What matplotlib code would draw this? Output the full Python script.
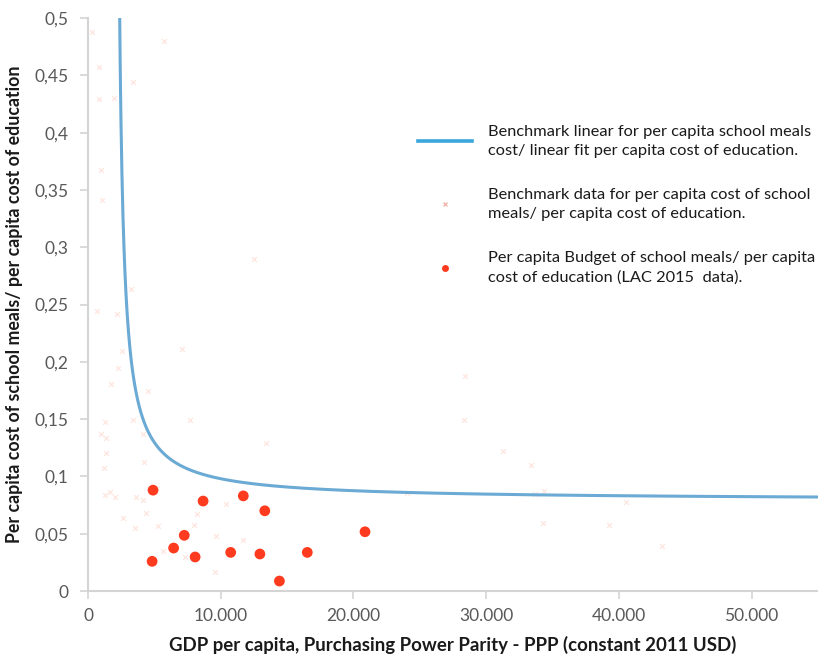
import matplotlib
matplotlib.use("Agg")
import matplotlib.pyplot as plt
import numpy as np
from matplotlib.lines import Line2D
from matplotlib.ticker import FuncFormatter

plt.rcParams['font.family'] = ['Lato', 'DejaVu Sans']

# Benchmark data: GDP per capita (PPP) vs school-meal cost / education cost
bench_gdp = [330, 5700, 800, 3370, 800, 1930, 1000, 1080, 12500, 3250, 680, 2200,
             2550, 7100, 2280, 1700, 4500, 1300, 3370, 7700, 1000, 1380, 4120, 1380,
             1180, 4250, 13400, 1300, 1630, 2000, 3630, 4120, 10370, 2620, 4380,
             8200, 3550, 5250, 8000, 9620, 11670, 5620, 7320, 9550, 28300, 31240,
             33410, 24060, 28440, 34360, 33690, 40510, 34290, 39260, 43230]
bench_ratio = [0.4875, 0.48, 0.457, 0.4445, 0.4297, 0.4306, 0.367, 0.3416, 0.2898,
               0.2634, 0.2445, 0.2416, 0.2096, 0.2108, 0.1945, 0.1805, 0.1747, 0.1477,
               0.1494, 0.1494, 0.1372, 0.1337, 0.1372, 0.120, 0.107, 0.1122, 0.1293,
               0.0837, 0.0863, 0.082, 0.0822, 0.0796, 0.0761, 0.0634, 0.0683, 0.0674,
               0.0547, 0.057, 0.0578, 0.0477, 0.0442, 0.0349, 0.0297, 0.0166, 0.1494,
               0.1218, 0.1096, 0.0852, 0.1875, 0.0875, 0.0843, 0.0779, 0.0596, 0.0578,
               0.039]

# LAC 2015 budget data
lac_gdp = [4900, 8670, 11700, 13320, 7250, 6450, 4830, 8070, 10750, 12950, 14420,
           16520, 20870]
lac_ratio = [0.088, 0.0785, 0.083, 0.070, 0.0486, 0.0375, 0.0259, 0.0297, 0.0337,
             0.0323, 0.0087, 0.0337, 0.0517]

# Benchmark fit: ratio = fit_a + fit_b / (gdp - fit_c)
fit_a = 0.0792
fit_b = 149.7
fit_c = 2030.0

x_ticks = [0, 10000, 20000, 30000, 40000, 50000]
y_ticks = [0, 0.05, 0.1, 0.15, 0.2, 0.25, 0.3, 0.35, 0.4, 0.45, 0.5]

labels = ["Benchmark linear for per capita school meals\ncost/ linear fit per capita cost of education.",
          "Benchmark data for per capita cost of school\nmeals/ per capita cost of education.",
          "Per capita Budget of school meals/ per capita\ncost of education (LAC 2015  data)."]

fig = plt.figure(figsize=(8.18, 6.58), dpi=100)
ax = fig.add_axes([0.1076, 0.1018, 0.8924, 0.8708])

curve_x = np.linspace(2370, 55000, 2000)
curve_y = fit_a + fit_b / (curve_x - fit_c)
ax.plot(curve_x, curve_y, color='#6aaad4', lw=2.2, zorder=3, solid_capstyle='butt')

ax.scatter(bench_gdp, bench_ratio, marker='x', s=12, color='#fde6df', linewidths=0.9,
           zorder=2)
ax.scatter(lac_gdp, lac_ratio, marker='o', s=60, color='#ff3b1f', edgecolors='none',
           zorder=4)

ax.set_xlim(0, 55000)
ax.set_ylim(0, 0.5)
ax.set_xticks(x_ticks)
ax.set_yticks(y_ticks)


def fmt_x(v, pos):
    return "0" if v == 0 else f"{int(v):,}".replace(",", ".")


def fmt_y(v, pos):
    s = f"{v:.2f}".rstrip("0").rstrip(".")
    return s.replace(".", ",")


ax.xaxis.set_major_formatter(FuncFormatter(fmt_x))
ax.yaxis.set_major_formatter(FuncFormatter(fmt_y))

for side in ['top', 'right']:
    ax.spines[side].set_visible(False)
for side in ['left', 'bottom']:
    ax.spines[side].set_color('#d4d4d4')
    ax.spines[side].set_linewidth(1.5)
ax.tick_params(axis='both', colors='#d4d4d4', width=1.2, length=6, direction='out',
               labelcolor='#595959', labelsize=12.5)
ax.tick_params(axis='x', pad=6)
ax.tick_params(axis='y', pad=8)

ax.set_xlabel("GDP per capita, Purchasing Power Parity - PPP (constant 2011 USD)",
              fontsize=13.4, fontweight='bold', color='#1a1a1a', labelpad=9)
ax.set_ylabel("Per capita cost of school meals/ per capita cost of education",
              fontsize=12.8, fontweight='bold', color='#1a1a1a', labelpad=8)

handles = [Line2D([], [], color='#3aa6dc', lw=2.6),
           Line2D([], [], marker='x', color='#f3b8ad', lw=0, markersize=3,
                  markeredgewidth=1.0),
           Line2D([], [], marker='o', color='#ff3b1f', lw=0, markersize=5,
                  markeredgewidth=0)]
leg = ax.legend(handles, labels, loc='upper left', bbox_to_anchor=(0.443, 0.825),
                frameon=False, fontsize=11.8, handlelength=3.3, handletextpad=1.0,
                labelspacing=1.8, borderaxespad=0)
for t in leg.get_texts():
    t.set_color('#1a1a1a')
    t.set_linespacing(1.5)

fig.savefig("out.png", dpi=100)
